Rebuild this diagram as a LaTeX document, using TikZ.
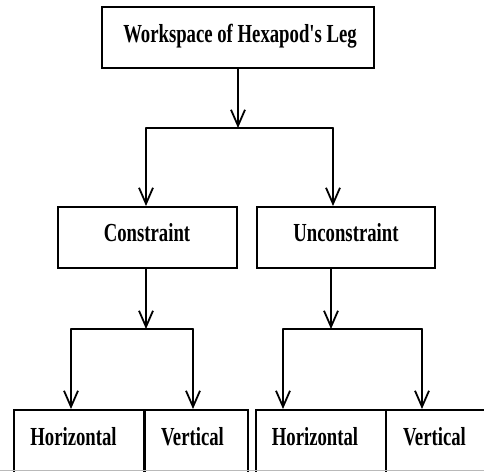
\documentclass[tikz,border=0pt]{standalone}
\usepackage{fontspec}
\setmainfont{Liberation Serif}
\usetikzlibrary{arrows.meta}
\begin{document}
\begin{tikzpicture}[x=1pt,y=-1pt,
  box/.style={draw=black,line width=2pt,rectangle,inner sep=0pt},
  openbox/.style={rectangle,inner sep=0pt,line width=2pt},
  edge/.style={draw=black,line width=2pt},
  lbl/.style={inner sep=0pt,font=\fontsize{26}{30}\selectfont\bfseries},
  conn/.style={line width=1.8pt,line cap=round},
  arr/.style={conn,-{Straight Barb[length=16pt,width=14pt,line width=1.8pt]}}]
\useasboundingbox (0,0) rectangle (484,471);
\clip (0,0) rectangle (484,471);
% boxes
\node[box,minimum width=272pt,minimum height=61pt] (top) at (238,37.5) {};
\node[box,minimum width=179pt,minimum height=61pt] (con) at (147.5,237.5) {};
\node[box,minimum width=178pt,minimum height=61pt] (uncon) at (346,237.5) {};
\node[box,anchor=north west,minimum width=130pt,minimum height=90pt] (h1) at (13,409) {};
\node[box,anchor=north west,minimum width=103pt,minimum height=90pt] (v1) at (144,409) {};
\node[box,anchor=north west,minimum width=130pt,minimum height=90pt] (h2) at (255,409) {};
\node[openbox,anchor=north west,minimum width=140pt,minimum height=90pt] (v2) at (386,409) {};
\draw[edge] ([yshift=1pt]v2.south west) -- ([yshift=-1pt]v2.north west) -- ([yshift=-1pt]v2.north east);
% bottom edge of the scan
\draw[gray!55,line width=1.2pt] (0,470.4) -- (484,470.4);
% labels
\node[lbl] (ttop) at (240,36) {\scalebox{0.72}[1]{Workspace of Hexapod\textquotesingle s Leg}};
\node[lbl] (tcon) at (147,233) {\scalebox{0.72}[1]{Constraint}};
\node[lbl] (tuncon) at (346,233) {\scalebox{0.72}[1]{Unconstraint}};
\node[lbl] (th1) at (73.5,437) {\scalebox{0.72}[1]{Horizontal}};
\node[lbl] (tv1) at (192.5,437) {\scalebox{0.72}[1]{Vertical}};
\node[lbl] (th2) at (315,437) {\scalebox{0.72}[1]{Horizontal}};
\node[lbl] (tv2) at (434.5,437) {\scalebox{0.72}[1]{Vertical}};
% branch points
\coordinate (b0) at (238,128);
\coordinate (b0l) at (146,128);
\coordinate (b0r) at (333,128);
\coordinate (c1) at (146,329);
\coordinate (c1l) at (71,329);
\coordinate (c1r) at (193,329);
\coordinate (c2) at (331,329);
\coordinate (c2l) at (283,329);
\coordinate (c2r) at (422,329);
% connectors
\draw[arr] (top.south -| b0) -- (b0);
\draw[conn] (b0l) -- (b0r);
\draw[arr] (b0l) -- (con.north -| b0l);
\draw[arr] (b0r) -- (uncon.north -| b0r);
\draw[arr] (con.south -| c1) -- (c1);
\draw[conn] (c1l) -- (c1r);
\draw[arr] (c1l) -- (h1.north -| c1l);
\draw[arr] (c1r) -- (v1.north -| c1r);
\draw[arr] (uncon.south -| c2) -- (c2);
\draw[conn] (c2l) -- (c2r);
\draw[arr] (c2l) -- (h2.north -| c2l);
\draw[arr] (c2r) -- (v2.north -| c2r);
\end{tikzpicture}
\end{document}
